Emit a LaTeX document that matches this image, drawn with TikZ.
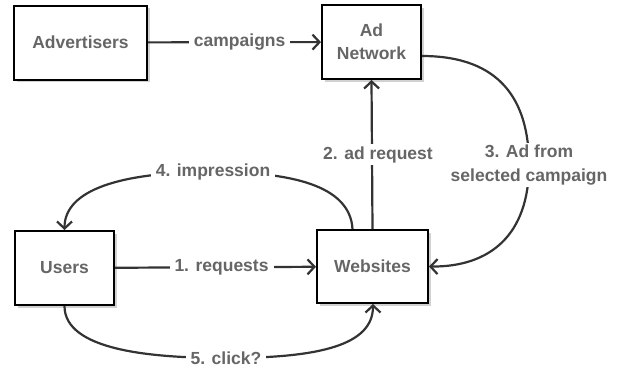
\documentclass[tikz,border=0pt]{standalone}
\usepackage{fontspec}
\setmainfont{Liberation Sans}
\usepackage{tikz}
\usetikzlibrary{arrows.meta,positioning,shadows}
\definecolor{linegrey}{RGB}{51,51,51}
\definecolor{textgrey}{RGB}{102,102,102}

\begin{document}
\begin{tikzpicture}[x=1pt, y=-1pt,
    actor/.style={rectangle, draw=black, line width=2pt, fill=white,
        font=\fontsize{17.5}{23}\selectfont\bfseries, text=textgrey, align=center,
        drop shadow={shadow xshift=2.5pt, shadow yshift=-2.5pt, fill=black!18, opacity=1}},
    lbl/.style={fill=white, inner xsep=5pt, inner ysep=2pt, font=\fontsize{17.5}{24}\selectfont\bfseries,
        text=textgrey, align=center},
    arr/.style={-{Straight Barb[length=7pt, width=15pt]}, line width=2.2pt, linegrey}
]
    \useasboundingbox (0,0) rectangle (640,376);

    \node[actor, minimum width=133pt, minimum height=74pt] (adv) at (80.5,42.5) {Advertisers};
    \node[actor, minimum width=99pt, minimum height=74pt] (net) at (371.5,42) {Ad\\Network};
    \node[actor, minimum width=99pt, minimum height=74pt] (usr) at (64.5,268) {Users};
    \node[actor, minimum width=111pt, minimum height=73pt] (web) at (372.5,266.5) {Websites};

    \draw[arr] (adv) -- (net) node[lbl, pos=0.53] {campaigns};
    \draw[arr] (usr) -- (web) node[lbl, pos=0.53] {1. requests};
    \draw[arr] (web.north) -- (net.south) node[lbl, pos=0.5, xshift=6pt] {2. ad request};

    % 3. ad goes back to the website
    \draw[arr] ([yshift=-14pt]net.east) .. controls (500,56) and (529,100) .. (529,165)
        node[lbl, inner xsep=2pt] (ad) {3. Ad from\\selected campaign}
        .. controls (529,235) and (490,267) .. (web.east);

    % 4. impression
    \draw[arr] ([xshift=-20pt]web.north) .. controls (350,185) and (290,172) .. (213,172)
        node[lbl] (imp) {4. impression}
        .. controls (120,172) and (64.5,190) .. (usr.north);

    % 5. click
    \draw[arr] (usr.south) .. controls (64.5,350) and (150,358) .. (226,358)
        node[lbl] (clk) {5. click?}
        .. controls (320,358) and (373,345) .. ([xshift=0.5pt]web.south);
\end{tikzpicture}
\end{document}
